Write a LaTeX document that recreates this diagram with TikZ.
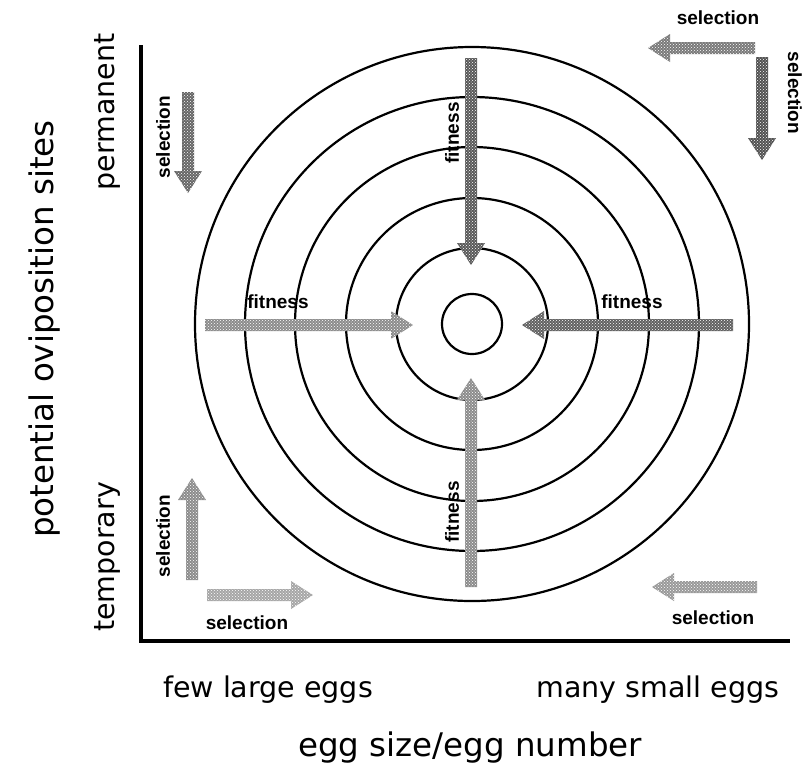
\documentclass[tikz,border=0pt]{standalone}
\usepackage{fontspec}
\setmainfont{DejaVu Sans}
\newfontfamily\smallfont{Liberation Sans}
\usetikzlibrary{calc,patterns}

% fat textured arrow from tail #1 to tip #2, grey level #3
\newcommand{\fatarrow}[3]{%
 \coordinate (hb) at ($(#2)!22pt!(#1)$);
 \fill[black!#3,postaction={pattern=crosshatch dots,pattern color=white}]
  ($(#1)!6pt!90:(#2)$) -- ($(hb)!6pt!-90:(#1)$) -- ($(hb)!14pt!-90:(#1)$) -- (#2)
  -- ($(hb)!14pt!90:(#1)$) -- ($(hb)!6pt!90:(#1)$) -- ($(#1)!6pt!-90:(#2)$) -- cycle;}

\begin{document}
\begin{tikzpicture}[x=1pt,y=-1pt,
 ring/.style={line width=2.2pt},
 axis/.style={line width=4.5pt},
 big/.style={font=\fontsize{28.5}{30}\selectfont},
 title/.style={font=\fontsize{32.5}{34}\selectfont},
 tag/.style={font=\smallfont\bfseries\fontsize{19}{20}\selectfont,inner sep=0pt}]
\useasboundingbox (0,0) rectangle (802,769);
% axes
\coordinate (ytop) at (141,45);
\coordinate (xend) at (790,641);
\draw[axis] (ytop) |- (xend);
% fitness landscape
\coordinate (peak) at (472,324);
\foreach \r in {30,76,126,177,227,277}{\draw[ring] (peak) circle[radius=\r pt];}
% fitness arrows
\coordinate (fitN-tail) at (471,58);  \coordinate (fitN-tip) at (471,265);
\coordinate (fitS-tail) at (471,587); \coordinate (fitS-tip) at (471,378);
\coordinate (fitW-tail) at (205,325); \coordinate (fitW-tip) at (413,325);
\coordinate (fitE-tail) at (733,325); \coordinate (fitE-tip) at (522,325);
\fatarrow{fitN-tail}{fitN-tip}{65}
\fatarrow{fitS-tail}{fitS-tip}{45}
\fatarrow{fitW-tail}{fitW-tip}{45}
\fatarrow{fitE-tail}{fitE-tip}{62}
\node[tag] (fitWlab) at (278,302) {fitness};
\node[tag] (fitElab) at (632,302) {fitness};
\node[tag,rotate=90] (fitNlab) at (452,133) {fitness};
\node[tag,rotate=90] (fitSlab) at (452,512) {fitness};
% selection arrows
\coordinate (selNEh-tail) at (755,48);  \coordinate (selNEh-tip) at (648,48);
\coordinate (selNEv-tail) at (762,57);  \coordinate (selNEv-tip) at (762,160);
\coordinate (selNWv-tail) at (188,92);  \coordinate (selNWv-tip) at (188,193);
\coordinate (selSWv-tail) at (192,580); \coordinate (selSWv-tip) at (192,478);
\coordinate (selSWh-tail) at (207,595); \coordinate (selSWh-tip) at (313,595);
\coordinate (selSEh-tail) at (757,587); \coordinate (selSEh-tip) at (652,587);
\fatarrow{selNEh-tail}{selNEh-tip}{52}
\fatarrow{selNEv-tail}{selNEv-tip}{68}
\fatarrow{selNWv-tail}{selNWv-tip}{60}
\fatarrow{selSWv-tail}{selSWv-tip}{45}
\fatarrow{selSWh-tail}{selSWh-tip}{35}
\fatarrow{selSEh-tail}{selSEh-tip}{40}
\node[tag] (selNElab) at (718,18) {selection};
\node[tag,rotate=-90] (selNEvlab) at (795,93) {selection};
\node[tag,rotate=90] (selNWlab) at (163,137) {selection};
\node[tag,rotate=90] (selSWvlab) at (163,536) {selection};
\node[tag] (selSWlab) at (247,623) {selection};
\node[tag] (selSElab) at (713,618) {selection};
% axis labels
\node[title,rotate=90] (ylab) at (45,329) {potential oviposition sites};
\node[big,rotate=90] (yhigh) at (107,112) {permanent};
\node[big,rotate=90] (ylow) at (107,557) {temporary};
\node[big] (xlow) at (268,690) {few large eggs};
\node[big] (xhigh) at (658,690) {many small eggs};
\node[title] (xlab) at (470,748) {egg size/egg number};
\end{tikzpicture}
\end{document}
